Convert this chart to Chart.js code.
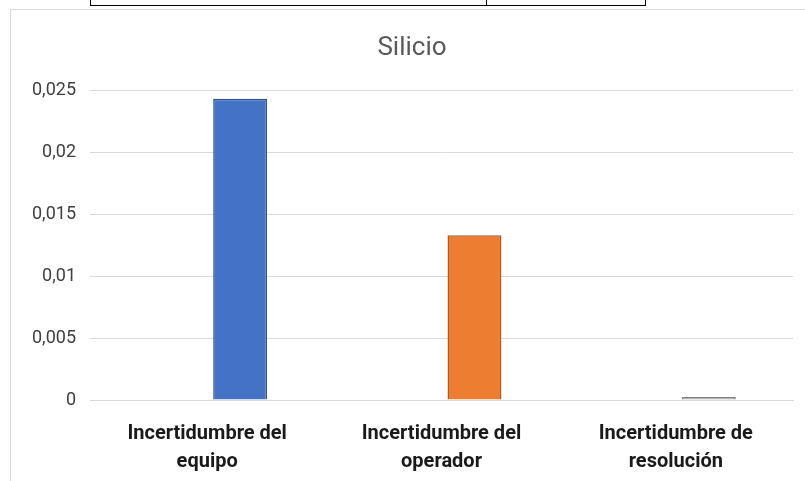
<!DOCTYPE html>
<html>
<head>
<meta charset="utf-8">
<script src="https://cdn.jsdelivr.net/npm/chart.js@4.4.0/dist/chart.umd.min.js"></script>
<style>
  html, body { margin: 0; padding: 0; background: #fff; }
  #wrap { position: relative; width: 805px; height: 481px; overflow: hidden; }
  .frame { position: absolute; left: 10px; top: 9px; width: 820px; height: 500px; border: 1px solid #d9d9d9; }
  .cell { position: absolute; background: #000; }
  canvas { position: absolute; left: 0; top: 0; }
</style>
</head>
<body>
<div id="wrap">
  <!-- borde de la tabla de arriba -->
  <div class="cell" style="left:90px; top:5px; width:556px; height:1px;"></div>
  <div class="cell" style="left:90px; top:0; width:1px; height:6px;"></div>
  <div class="cell" style="left:486px; top:0; width:1px; height:6px;"></div>
  <div class="cell" style="left:645px; top:0; width:1px; height:6px;"></div>
  <div class="frame"></div>
  <canvas id="grafico" width="805" height="481"></canvas>
</div>
<script>
const categorias = [
  ["Incertidumbre del", "equipo"],
  ["Incertidumbre del", "operador"],
  ["Incertidumbre de", "resolución"]
];
const valores = [0.0243, 0.0133, 0.00025];
const vacia = [null, null, null];
const etiquetasY = ["0", "0,005", "0,01", "0,015", "0,02", "0,025"];

const colores = ["#4472C4", "#ED7D31", "#A5A5A5"];
const bordes = ["#2F528F", "#AE5A21", "#7F7F7F"];

const ctx = document.getElementById("grafico");
new Chart(ctx, {
  type: "bar",
  data: {
    labels: categorias,
    datasets: [
      { label: "", data: vacia },
      {
        label: "Silicio",
        data: valores,
        backgroundColor: colores,
        borderColor: bordes,
        borderWidth: 1.5,
        borderSkipped: "bottom"
      }
    ]
  },
  options: {
    responsive: false,
    animation: false,
    categoryPercentage: 0.563,
    barPercentage: 0.818,
    layout: { padding: { left: 31, right: 12, top: 30, bottom: 0 } },
    plugins: {
      legend: { display: false },
      tooltip: { enabled: false },
      title: {
        display: true,
        text: "Silicio",
        color: "#595959",
        font: { family: "Roboto", size: 26, weight: "normal" },
        padding: { top: 3, bottom: 26 }
      }
    },
    scales: {
      x: {
        grid: { display: false },
        border: { color: "#d9d9d9", width: 1 },
        ticks: {
          color: "#1a1a1a",
          padding: 12,
          maxRotation: 0,
          font: { family: "Roboto", size: 20, weight: "bold", lineHeight: 1.4 }
        },
        afterFit: s => { s.height = 81; }
      },
      y: {
        min: 0,
        max: 0.025,
        border: { display: false },
        grid: { color: "#d9d9d9", drawTicks: false },
        ticks: {
          stepSize: 0.005,
          padding: 14,
          color: "#404040",
          font: { family: "Roboto", size: 18 },
          callback: (v, i) => etiquetasY[i]
        },
        afterFit: s => { s.width = 59; }
      }
    }
  }
});
</script>
</body>
</html>
